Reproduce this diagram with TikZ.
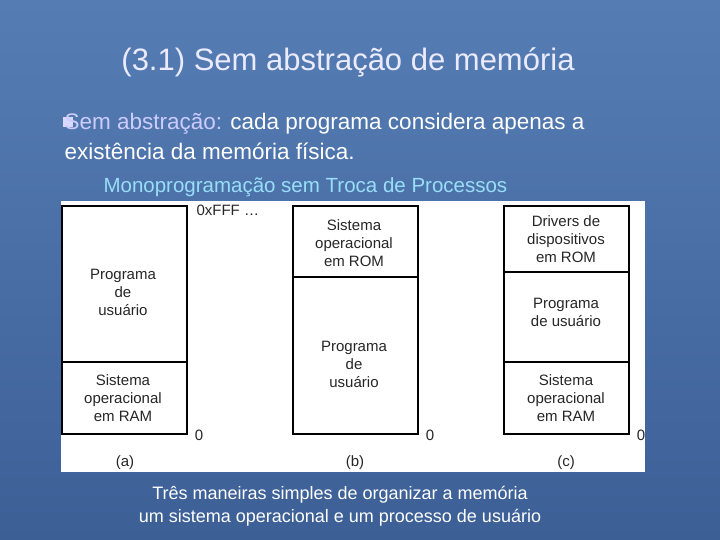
\documentclass[tikz,border=0pt]{standalone}
\usepackage{fontspec}
\setmainfont{Liberation Sans}
\begin{document}
\begin{tikzpicture}[x=1pt,y=-1pt,
  mem/.style={draw=black,line width=1.2pt,fill=white},
  bt/.style={font=\fontsize{15}{18}\selectfont,align=center,text=black!85},
  lab/.style={font=\fontsize{15}{18}\selectfont,text=black!85}]
\definecolor{bgA}{RGB}{60,95,150}
\definecolor{bgB}{RGB}{85,125,180}
\shade[top color=bgB,bottom color=bgA] (0,0) rectangle (720,540);
\useasboundingbox (0,0) rectangle (720,540);
\node[text=white!92!blue,font=\fontsize{31}{36}\selectfont] (title) at (348,62) {(3.1) Sem abstração de memória};
\fill[white!85!blue] (63,117) rectangle (73,127) coordinate (bul);
\node[anchor=base west,font=\fontsize{22.5}{27}\selectfont,text=white] (l1) at (61,130) {\textcolor{white!80!blue}{Sem abstração:} cada programa considera apenas a};
\node[anchor=base west,font=\fontsize{22.5}{27}\selectfont,text=white] (l2) at (61,160) {existência da memória física.};
\node[anchor=base west,font=\fontsize{20.5}{24}\selectfont,text=cyan!40!white] (mono) at (100,193) {Monoprogramação sem Troca de Processos};
\fill[white] (61,201) rectangle (645,472);
% (a)
\draw[mem] (62,206) rectangle (187,434);
\draw[mem] (62,362) -- (187,362);
\node[bt] (a1) at (123,292) {Programa\\de\\usuário};
\node[bt] (a2) at (123,398) {Sistema\\operacional\\em RAM};
% (b)
\draw[mem] (293,206) rectangle (418,434);
\draw[mem] (293,277) -- (418,277);
\node[bt] (b1) at (354,243) {Sistema\\operacional\\em ROM};
\node[bt] (b2) at (354,364) {Programa\\de\\usuário};
% (c)
\draw[mem] (504,206) rectangle (629,434);
\draw[mem] (504,272) -- (629,272);
\draw[mem] (504,362) -- (629,362);
\node[bt] (c1) at (566,239) {Drivers de\\dispositivos\\em ROM};
\node[bt] (c2) at (566,312) {Programa\\de usuário};
\node[bt] (c3) at (566,398) {Sistema\\operacional\\em RAM};
\node[lab,anchor=west] (fff) at (193,210) {0xFFF \dots};
\node[lab] (z1) at (199,435) {0};
\node[lab] (z2) at (430,435) {0};
\node[lab] (z3) at (641,435) {0};
\node[lab] (pa) at (125,463) {(a)};
\node[lab] (pb) at (355,463) {(b)};
\node[lab] (pc) at (566,463) {(c)};
\node[text=white,font=\fontsize{18}{23}\selectfont,align=center] (cap) at (340,506) {Três maneiras simples de organizar a memória\\um sistema operacional e um processo de usuário};
\end{tikzpicture}
\end{document}
